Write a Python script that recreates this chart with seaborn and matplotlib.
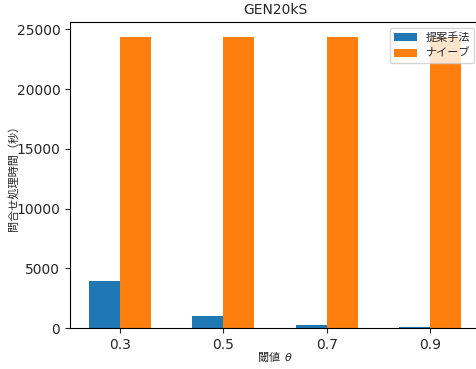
import pandas as pd
import matplotlib
matplotlib.use('Agg')
import matplotlib.pyplot as plt
import seaborn as sns

# values
thresholds = ['0.3', '0.5', '0.7', '0.9']
proposed = [3900, 1000, 280, 60]
naive = [24400, 24400, 24400, 24400]
methods = ['提案手法', 'ナイーブ']

sns.set_style('ticks')
plt.rcParams['font.family'] = ['DejaVu Sans', 'Noto Sans CJK JP']
plt.rcParams['axes.unicode_minus'] = False
jp = ['Noto Sans CJK JP', 'DejaVu Sans']

df = pd.DataFrame({
    'theta': thresholds * 2,
    'time': proposed + naive,
    'method': [methods[0]] * len(thresholds) + [methods[1]] * len(thresholds),
})

fig = plt.figure(figsize=(4.77, 3.69), dpi=100)
ax = fig.add_axes([70 / 477, 41 / 369, 410 / 477, 306 / 369])

sns.barplot(data=df, x='theta', y='time', hue='method', order=thresholds,
            hue_order=methods, palette=['#1f77b4', '#ff7f0e'],
            saturation=1, width=0.6, gap=0, linewidth=0, ax=ax)

ax.set_xlim(-0.48, 3.48)
ax.set_ylim(0, 25620)
ax.set_title('GEN20kS', fontsize=10)
ax.set_xlabel('閾値  $\\theta$', fontsize=8, family=jp)
ax.set_ylabel('問合せ処理時間（秒）', fontsize=8, family=jp)
ax.xaxis.set_label_coords(0.5, -0.072)
ax.yaxis.set_label_coords(-0.126, 0.5)
ax.tick_params(labelsize=10)
for s in ax.spines.values():
    s.set_visible(True)
    s.set_linewidth(0.8)
    s.set_color('black')

ax.legend(loc='upper right', title=None, framealpha=0.8,
          prop={'family': jp, 'size': 8})

fig.savefig('out.png', dpi=100)
